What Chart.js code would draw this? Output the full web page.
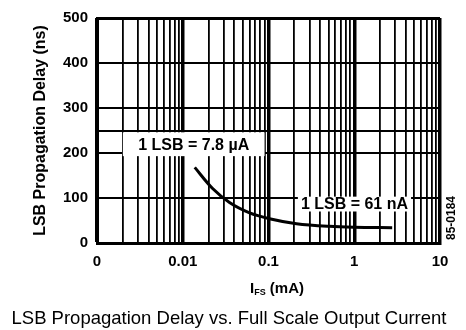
<!DOCTYPE html>
<html lang="en">
<head>
  <meta charset="UTF-8">
  <title>LSB Propagation Delay</title>
  <script src="https://cdn.jsdelivr.net/npm/chart.js"></script>
  <style>
    html, body { margin: 0; padding: 0; background: #fff; }
    .wrap { width: 466px; height: 330px; position: relative; }
  </style>
</head>
<body>
  <div class="wrap">
    <canvas id="delayChart"></canvas>
  </div>

  <script>
    // curve: I_FS (mA) vs LSB delay (ns)
    const currentMa = [0.0138, 0.0223, 0.0351, 0.0602, 0.1027, 0.212, 0.512, 1.0, 2.77];
    const delayNs = [168, 121, 90, 67, 54, 43, 37, 35, 34];

    // axis ticks
    const decades = [0.001, 0.01, 0.1, 1, 10];
    const decadeLabels = ['0', '0.01', '0.1', '1', '10'];
    const yTicks = [0, 100, 200, 300, 400, 500];
    const yExtraLines = [250];

    const notes = [
      { text: '1 LSB = 7.8 \u00B5A', box: [0.0020, 0.090, 193, 246] },
      { text: '1 LSB = 61 nA', box: [0.22, 4.6, 70, 103] }
    ];

    const FONT = '"Liberation Sans", Arial, Helvetica, sans-serif';
    Chart.defaults.font.family = FONT;
    Chart.defaults.color = '#000';

    // minor log gridlines 1..9 per decade
    function logTickValues() {
      const out = [];
      for (let i = 0; i < decades.length - 1; i++) {
        for (let m = 1; m < 10; m++) out.push(+(decades[i] * m).toPrecision(3));
      }
      out.push(decades[decades.length - 1]);
      return out;
    }

    const textPlugin = {
      id: 'extraText',
      beforeDatasetsDraw(chart) {
        const { ctx, scales } = chart;
        ctx.save();
        ctx.font = 'bold 16px ' + FONT;
        ctx.textAlign = 'center';
        ctx.textBaseline = 'middle';
        notes.forEach(n => {
          const x0 = scales.x.getPixelForValue(n.box[0]);
          const x1 = scales.x.getPixelForValue(n.box[1]);
          const y0 = scales.y.getPixelForValue(n.box[2]);
          const y1 = scales.y.getPixelForValue(n.box[3]);
          ctx.fillStyle = '#fff';
          ctx.fillRect(x0, y1, x1 - x0, y0 - y1);
          ctx.fillStyle = '#000';
          ctx.fillText(n.text, (x0 + x1) / 2, (y0 + y1) / 2 + 1);
        });
        ctx.restore();
      },
      afterDraw(chart) {
        const ctx = chart.ctx;
        ctx.save();
        ctx.fillStyle = '#000';
        ctx.textBaseline = 'middle';

        // x axis title with subscript
        const parts = [
          { t: 'I', f: 'bold 15px ', dy: 0 },
          { t: 'FS', f: 'bold 9px ', dy: 4 },
          { t: ' (mA)', f: 'bold 15px ', dy: 0 }
        ];
        let w = 0;
        parts.forEach(p => { ctx.font = p.f + FONT; w += ctx.measureText(p.t).width; });
        let x = 277 - w / 2;
        ctx.textAlign = 'left';
        parts.forEach(p => {
          ctx.font = p.f + FONT;
          ctx.fillText(p.t, x, 289 + p.dy);
          x += ctx.measureText(p.t).width;
        });

        // caption
        ctx.textAlign = 'center';
        ctx.font = '18.5px ' + FONT;
        ctx.fillText('LSB Propagation Delay vs. Full Scale Output Current', 229, 319);

        // figure code on the right edge
        ctx.translate(452, 218);
        ctx.rotate(-Math.PI / 2);
        ctx.font = 'bold 12px ' + FONT;
        ctx.fillText('85-0184', 0, 0);
        ctx.restore();
      }
    };

    const ctx = document.getElementById('delayChart').getContext('2d');
    new Chart(ctx, {
      type: 'line',
      data: {
        datasets: [{
          data: currentMa.map((v, i) => ({ x: v, y: delayNs[i] })),
          borderColor: '#000',
          borderWidth: 3,
          pointRadius: 0,
          tension: 0.4,
          cubicInterpolationMode: 'monotone',
          fill: false
        }]
      },
      options: {
        responsive: true,
        maintainAspectRatio: false,
        animation: false,
        layout: { padding: { top: 10, right: 26, left: 0, bottom: 0 } },
        plugins: { legend: { display: false }, tooltip: { enabled: false } },
        scales: {
          x: {
            type: 'logarithmic',
            min: 0.001,
            max: 10,
            afterFit(scale) { scale.height = 87; },
            afterBuildTicks(scale) {
              scale.ticks = logTickValues().map(v => ({ value: v }));
            },
            ticks: {
              autoSkip: false,
              maxRotation: 0,
              padding: 10,
              font: { size: 15, weight: 'bold' },
              callback(value) {
                const i = decades.findIndex(d => Math.abs(d - value) / d < 1e-6);
                return i >= 0 ? decadeLabels[i] : '';
              }
            },
            grid: {
              color: '#000',
              drawTicks: false,
              lineWidth(c) {
                const v = c.tick ? c.tick.value : 0;
                return decades.some(d => Math.abs(d - v) / d < 1e-6) ? 3.5 : 1.8;
              }
            },
            border: { color: '#000', width: 3 }
          },
          y: {
            min: 0,
            max: 500,
            afterFit(scale) { scale.width = 97; },
            afterBuildTicks(scale) {
              scale.ticks = yTicks.concat(yExtraLines).sort((a, b) => a - b).map(v => ({ value: v }));
            },
            ticks: {
              padding: 9,
              font: { size: 15, weight: 'bold' },
              callback(value) { return yTicks.includes(value) ? value : ''; }
            },
            grid: {
              color: '#000',
              drawTicks: false,
              lineWidth(c) { return c.tick && c.tick.value === 500 ? 3 : 2; }
            },
            border: { color: '#000', width: 3 },
            title: {
              display: true,
              text: 'LSB Propagation Delay (ns)',
              font: { size: 16, weight: 'bold' },
              padding: { top: 31, bottom: 0 }
            }
          }
        }
      },
      plugins: [textPlugin]
    });
  </script>
</body>
</html>
